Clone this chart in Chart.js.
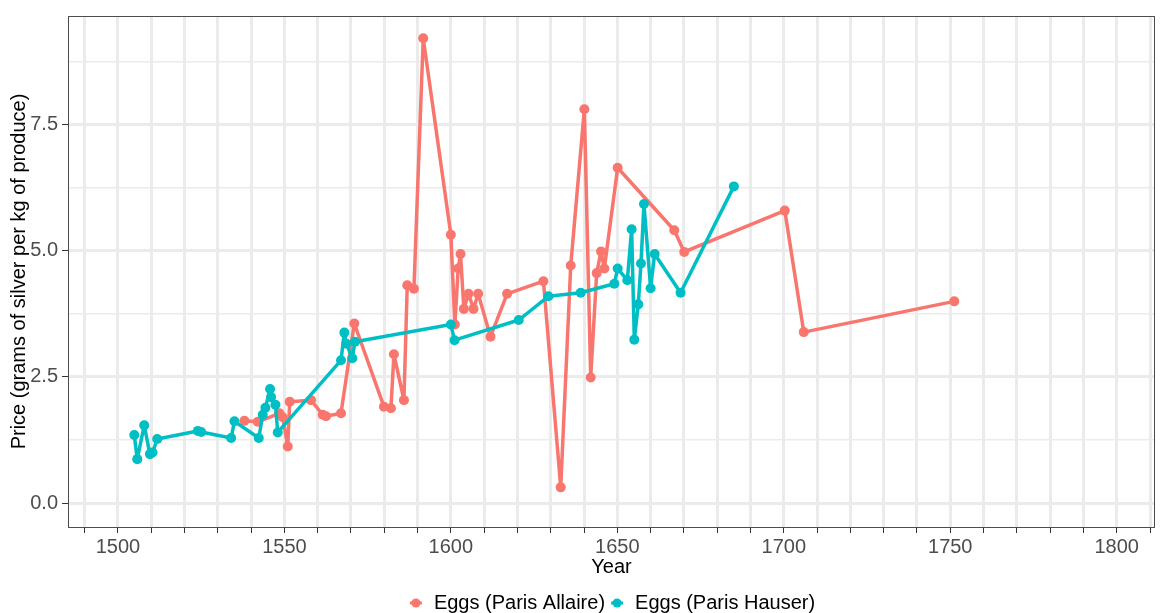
<!DOCTYPE html>
<html>
<head>
<meta charset="utf-8">
<title>Eggs prices in Paris</title>
<script src="https://cdn.jsdelivr.net/npm/chart.js@4.4.1/dist/chart.umd.min.js"></script>
<style>
  html, body { margin: 0; padding: 0; background: #fff; }
  #wrap { width: 1160px; height: 613px; position: relative; }
</style>
</head>
<body>
<div id="wrap"><canvas id="eggsChart"></canvas></div>
<script>
// DONNEES
const allaireYears = [1538, 1542, 1548.5, 1549.5, 1551, 1551.6, 1558, 1561.5, 1562.5, 1567,
  1571, 1579.9, 1582, 1582.9, 1585.9, 1586.9, 1588.9, 1591.7, 1600, 1601.2,
  1602.2, 1602.9, 1603.9, 1605.3, 1606.8, 1608.2, 1611.9, 1616.9, 1627.8, 1633,
  1636, 1640.1, 1642, 1643.8, 1645.1, 1646.1, 1650.1, 1667.1, 1670.1, 1700.3,
  1706, 1751.2];
const allairePrices = [1.63, 1.61, 1.78, 1.70, 1.12, 2.01, 2.04, 1.75, 1.72, 1.78,
  3.56, 1.91, 1.88, 2.95, 2.04, 4.32, 4.25, 9.22, 5.32, 3.54,
  4.65, 4.94, 3.85, 4.15, 3.85, 4.15, 3.30, 4.15, 4.40, 0.31,
  4.71, 7.81, 2.49, 4.56, 4.99, 4.65, 6.65, 5.41, 4.98, 5.80,
  3.39, 4.00];

const hauserYears = [1504.9, 1505.8, 1507.9, 1509.6, 1510.4, 1511.8, 1524, 1525, 1534, 1535,
  1542.3, 1543.5, 1544.3, 1545.7, 1546, 1547.3, 1548, 1567, 1568, 1568.6,
  1570.4, 1571.2, 1600, 1601.1, 1620.4, 1629.3, 1639, 1649.1, 1650.1, 1653,
  1654.3, 1655.1, 1656.3, 1657.1, 1658, 1660, 1661.2, 1669, 1685];
const hauserPrices = [1.35, 0.87, 1.54, 0.97, 1.00, 1.27, 1.43, 1.41, 1.29, 1.62,
  1.29, 1.75, 1.89, 2.26, 2.10, 1.95, 1.40, 2.83, 3.38, 3.16,
  2.87, 3.20, 3.54, 3.23, 3.63, 4.10, 4.17, 4.35, 4.65, 4.42,
  5.43, 3.24, 3.94, 4.75, 5.93, 4.26, 4.94, 4.17, 6.28];

const seriesNames = ['Eggs (Paris Allaire)', 'Eggs (Paris Hauser)'];
const seriesColors = ['#F8766D', '#00BFC4'];

const xTicks = [];
for (let y = 1490; y <= 1810; y += 10) xTicks.push(y);
const yTicks = [0, 1.25, 2.5, 3.75, 5, 6.25, 7.5, 8.75];

function toPoints(xs, ys) {
    return xs.map((x, i) => ({ x: x, y: ys[i] }));
}

// petite icone de legende : trait + point, facon ggplot
function legendKey(color) {
    const c = document.createElement('canvas');
    c.width = 16; c.height = 12;
    const g = c.getContext('2d');
    g.strokeStyle = color;
    g.lineWidth = 3;
    g.beginPath(); g.moveTo(2, 6); g.lineTo(14, 6); g.stroke();
    g.fillStyle = color;
    g.beginPath(); g.arc(8, 6, 4.5, 0, Math.PI * 2); g.fill();
    return c;
}

// cadre du panneau
const panelBorder = {
    id: 'panelBorder',
    afterDraw(chart) {
        const a = chart.chartArea, ctx = chart.ctx;
        ctx.save();
        ctx.strokeStyle = '#4d4d4d';
        ctx.lineWidth = 1;
        ctx.strokeRect(a.left + 0.5, a.top + 0.5, a.right - a.left - 1, a.bottom - a.top);
        ctx.restore();
    }
};

Chart.defaults.font.family = "'Liberation Sans', Arial, sans-serif";
Chart.defaults.font.size = 20;

const isMajorY = v => Math.abs(v / 2.5 - Math.round(v / 2.5)) < 1e-6;

new Chart(document.getElementById('eggsChart'), {
    type: 'line',
    data: {
        datasets: [0, 1].map(i => ({
            label: seriesNames[i],
            data: i === 0 ? toPoints(allaireYears, allairePrices) : toPoints(hauserYears, hauserPrices),
            borderColor: seriesColors[i],
            backgroundColor: seriesColors[i],
            borderWidth: 3.5,
            borderJoinStyle: 'round',
            borderCapStyle: 'round',
            pointRadius: 5,
            pointHoverRadius: 5,
            pointBorderWidth: 0,
            tension: 0,
            order: i === 0 ? 1 : 0
        }))
    },
    options: {
        responsive: true,
        maintainAspectRatio: false,
        animation: false,
        layout: { padding: { top: 16, right: 1, left: 0, bottom: 0 } },
        plugins: {
            tooltip: { enabled: false },
            legend: {
                position: 'bottom',
                fullSize: false,
                maxHeight: 24,
                labels: {
                    color: '#000',
                    font: { size: 20 },
                    usePointStyle: true,
                    pointStyleWidth: 16,
                    boxHeight: 12,
                    padding: 4,
                    sort: (a, b) => a.datasetIndex - b.datasetIndex,
                    generateLabels(chart) {
                        const items = Chart.defaults.plugins.legend.labels.generateLabels(chart);
                        items.forEach(it => { it.pointStyle = legendKey(seriesColors[it.datasetIndex]); });
                        return items;
                    }
                }
            }
        },
        scales: {
            x: {
                type: 'linear',
                min: 1485,
                max: 1811.5,
                afterBuildTicks: s => { s.ticks = xTicks.map(v => ({ value: v })); },
                afterFit: s => { s.height = 62; },
                grid: { color: '#EBEBEB', lineWidth: 3, tickColor: '#333333', tickLength: 6, tickWidth: 1 },
                border: { display: false },
                ticks: {
                    color: '#4D4D4D',
                    padding: 2,
                    maxRotation: 0,
                    autoSkip: false,
                    callback: v => (v % 50 === 0 ? String(v) : '')
                },
                title: { display: true, text: 'Year', color: '#000', font: { size: 20 }, padding: { top: 0, bottom: 10 } }
            },
            y: {
                min: -0.476,
                max: 9.66,
                afterBuildTicks: s => { s.ticks = yTicks.map(v => ({ value: v })); },
                afterFit: s => { s.width = 68; },
                grid: {
                    color: '#EBEBEB',
                    lineWidth: c => (isMajorY(c.tick.value) ? 3 : 1.5),
                    tickColor: c => (isMajorY(c.tick.value) ? '#333333' : 'rgba(0,0,0,0)'),
                    tickLength: 6,
                    tickWidth: 1
                },
                border: { display: false },
                ticks: {
                    color: '#4D4D4D',
                    padding: 4,
                    autoSkip: false,
                    callback: v => (isMajorY(v) ? v.toFixed(1) : '')
                },
                title: { display: true, text: 'Price (grams of silver per kg of produce)', color: '#000', font: { size: 20 }, padding: { top: 7, bottom: 0 } }
            }
        }
    },
    plugins: [panelBorder]
});
</script>
</body>
</html>
